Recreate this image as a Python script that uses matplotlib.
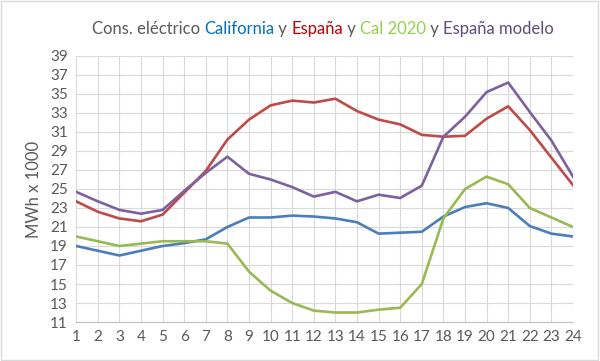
import matplotlib
matplotlib.use("Agg")
import matplotlib.pyplot as plt
from matplotlib.patches import Rectangle

plt.rcParams["font.family"] = ["Lato", "DejaVu Sans"]

horas = list(range(1, 25))
california = [19.0, 18.5, 18.0, 18.5, 19.0, 19.3, 19.7, 21.0, 22.0, 22.0, 22.2, 22.1,
              21.9, 21.5, 20.3, 20.4, 20.5, 22.1, 23.1, 23.5, 23.0, 21.1, 20.3, 20.0]
espana = [23.7, 22.6, 21.9, 21.6, 22.3, 24.6, 26.9, 30.2, 32.3, 33.8, 34.3, 34.1,
          34.5, 33.2, 32.3, 31.8, 30.7, 30.5, 30.6, 32.4, 33.7, 31.2, 28.3, 25.4]
cal_2020 = [20.0, 19.5, 19.0, 19.25, 19.5, 19.5, 19.5, 19.25, 16.3, 14.3, 13.0, 12.2,
            12.0, 12.0, 12.3, 12.5, 15.0, 21.9, 25.0, 26.3, 25.5, 23.0, 22.0, 21.0]
espana_modelo = [24.7, 23.7, 22.8, 22.4, 22.8, 24.8, 26.7, 28.4, 26.6, 26.0, 25.2, 24.2,
                 24.7, 23.7, 24.4, 24.05, 25.35, 30.5, 32.6, 35.2, 36.2, 33.1, 30.1, 26.3]
y_ticks = list(range(11, 40, 2))

gris = "#595959"
fig = plt.figure(figsize=(6.0, 3.61), dpi=100)
fig.patch.set_facecolor("white")
fig.patches.append(Rectangle((0.002, 0.003), 0.995, 0.993, transform=fig.transFigure,
                             fill=False, edgecolor="#d9d9d9", linewidth=1.0))
ax = fig.add_axes([0.127, 0.108, 0.828, 0.737])

ax.plot(horas, california, color="#4a7ebb", lw=1.9)
ax.plot(horas, espana, color="#be4b48", lw=1.9)
ax.plot(horas, cal_2020, color="#98b954", lw=1.9)
ax.plot(horas, espana_modelo, color="#7d60a0", lw=1.9)

ax.set_xlim(1, 24)
ax.set_ylim(11, 39)
ax.set_xticks(horas)
ax.set_yticks(y_ticks)
ax.tick_params(axis="both", length=0, labelsize=11, colors=gris, pad=6)
ax.grid(True, color="#d9d9d9", lw=0.8)
ax.set_axisbelow(True)
for s in ["top", "right", "left"]:
    ax.spines[s].set_visible(False)
ax.spines["bottom"].set_color("#bfbfbf")
ax.set_ylabel("MWh x 1000", fontsize=12, color=gris, labelpad=6)

# titulo en varios colores
partes = [("Cons. eléctrico ", gris), ("California", "#0070c0"), (" y ", gris),
          ("España", "#c00000"), (" y ", gris), ("Cal 2020", "#92d050"),
          (" y ", gris), ("España modelo", "#604a7b")]
fig.canvas.draw()
r = fig.canvas.get_renderer()
textos = []
for t, c in partes:
    textos.append(fig.text(0, 0.92, t, color=c, fontsize=12, ha="left", va="center"))
anchos = [tx.get_window_extent(r).width for tx in textos]
x = (fig.bbox.width * 0.538) - sum(anchos) / 2
for tx, w in zip(textos, anchos):
    tx.set_x(x / fig.bbox.width)
    x += w

fig.savefig("out.png", dpi=100)
